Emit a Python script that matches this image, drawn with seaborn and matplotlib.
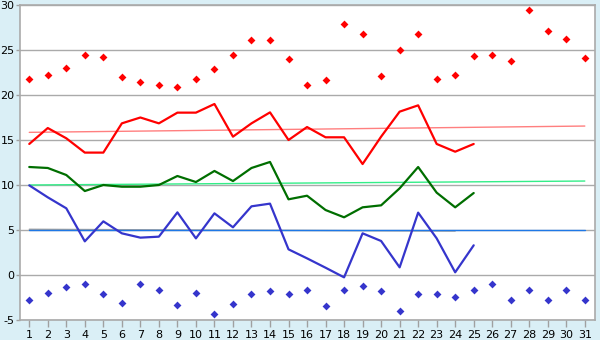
import numpy as np
import pandas as pd
import seaborn as sns
import matplotlib.pyplot as plt

# daily values
days = list(range(1, 32))
red_line = [14.56, 16.33, 15.19, 13.6, 13.6, 16.85, 17.5, 16.85, 18.04, 18.04,
            19.0, 15.37, 16.85, 18.07, 15.0, 16.44, 15.3, 15.3, 12.33, 15.37,
            18.15, 18.85, 14.56, 13.7, 14.56]
green_line = [12.0, 11.89, 11.11, 9.33, 10.0, 9.81, 9.81, 10.0, 11.0, 10.33,
              11.56, 10.44, 11.89, 12.56, 8.41, 8.81, 7.22, 6.41, 7.52, 7.74,
              9.63, 12.0, 9.15, 7.52, 9.11]
blue_line = [9.96, 8.63, 7.41, 3.74, 5.96, 4.63, 4.15, 4.26, 6.96, 4.07,
             6.85, 5.3, 7.63, 7.93, 2.85, 1.85, 0.81, -0.26, 4.63, 3.78,
             0.85, 6.93, 4.07, 0.3, 3.3]
red_points = [21.74, 22.19, 22.96, 24.4, 24.19, 21.96, 21.4, 21.07, 20.85, 21.74,
              22.85, 24.4, 26.07, 26.07, 23.96, 21.07, 21.63, 27.85, 26.74, 22.07,
              24.96, 26.74, 21.74, 22.19, 24.3, 24.4, 23.74, 29.41, 27.07, 26.19,
              24.07]
blue_points = [-2.81, -2.04, -1.37, -1.04, -2.15, -3.15, -1.04, -1.7, -3.37, -2.04,
               -4.37, -3.26, -2.15, -1.81, -2.15, -1.67, -3.48, -1.67, -1.26, -1.81,
               -4.04, -2.15, -2.15, -2.48, -1.7, -1.04, -2.81, -1.67, -2.81, -1.67,
               -2.81]

# reference / trend lines (start day, end day, start value, end value)
red_trend = (1, 31, 15.85, 16.55)
green_trend = (1, 31, 10.0, 10.44)
blue_ref = (1, 31, 5.0, 5.0)
grey_trend = (1, 24, 5.08, 4.88)

df_lines = pd.DataFrame({'day': days[:25], 'red': red_line,
                         'green': green_line, 'blue': blue_line})
df_pts = pd.DataFrame({'day': days, 'high': red_points, 'low': blue_points})

sns.set_style('white')
plt.rcParams['font.family'] = ['DejaVu Sans']
plt.rcParams['axes.unicode_minus'] = False
fig = plt.figure(figsize=(6, 3.4), dpi=100)
fig.patch.set_facecolor('#DAEFF6')
ax = fig.add_axes([20/600, 1-320/340, 575/600, 315/340])
ax.set_facecolor('white')

for y in range(-5, 31, 5):
    ax.axhline(y, color='#AAAAAA', lw=1, zorder=0)

for (x0, x1, y0, y1), c in [(red_trend, '#FF7F7F'), (green_trend, '#33EE88'),
                            (grey_trend, '#A0A0A0'), (blue_ref, '#1E78E6')]:
    sns.lineplot(x=[x0, x1], y=[y0, y1], color=c, lw=1, ax=ax, zorder=1)

sns.lineplot(data=df_lines, x='day', y='red', color='#FF0000', lw=1.6, ax=ax, zorder=3)
sns.lineplot(data=df_lines, x='day', y='green', color='#006E00', lw=1.6, ax=ax, zorder=3)
sns.lineplot(data=df_lines, x='day', y='blue', color='#3535CC', lw=1.6, ax=ax, zorder=3)
sns.scatterplot(data=df_pts, x='day', y='high', color='#FF0000', marker='D', s=16,
                linewidth=0, ax=ax, zorder=4)
sns.scatterplot(data=df_pts, x='day', y='low', color='#3535CC', marker='D', s=16,
                linewidth=0, ax=ax, zorder=4)

ax.set_xlim(0.5, 31.55)
ax.set_ylim(-5, 30)
ax.set_xticks(days)
ax.set_yticks(range(-5, 31, 5))
ax.set_xlabel('')
ax.set_ylabel('')
ax.tick_params(axis='both', colors='#A0A0A0', labelcolor='black', labelsize=8,
               width=1, direction='out')
ax.tick_params(axis='x', bottom=True, length=5, pad=2)
ax.tick_params(axis='y', left=True, length=3, pad=1)
for s in ax.spines.values():
    s.set_color('#AAAAAA')
    s.set_linewidth(1.2)

plt.savefig('out.png', dpi=100, facecolor=fig.get_facecolor())
